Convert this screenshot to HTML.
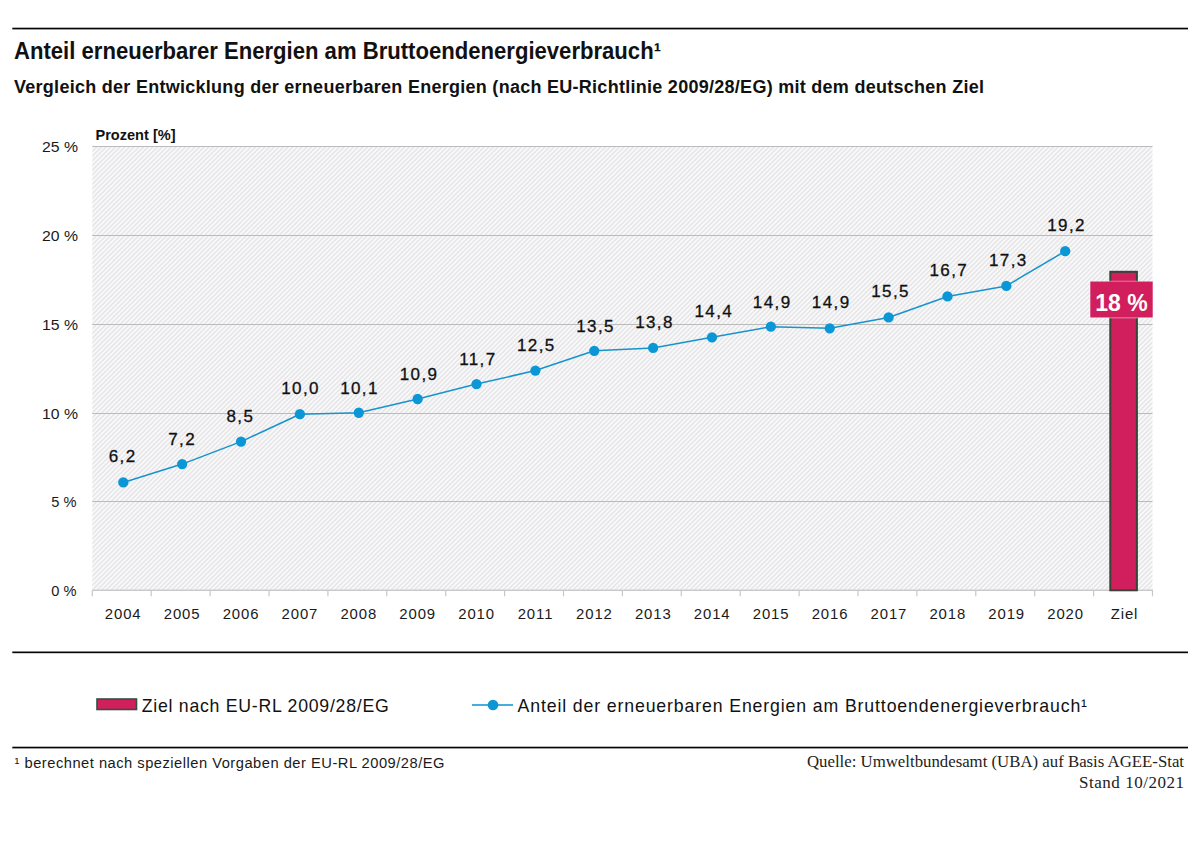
<!DOCTYPE html><html><head><meta charset="utf-8"><title>Anteil erneuerbarer Energien</title>
<style>html,body{margin:0;padding:0;background:#fff;width:1200px;height:858px;overflow:hidden}svg{display:block}text{font-family:"Liberation Sans", sans-serif}.serif{font-family:"Liberation Serif", serif}</style></head><body>
<svg width="1200" height="858" viewBox="0 0 1200 858">
<defs><pattern id="hatch" patternUnits="userSpaceOnUse" width="3.3" height="20" patternTransform="rotate(45)"><rect width="3.3" height="20" fill="#f9f9fa"/><rect x="0" y="0" width="1.45" height="20" fill="#e5e5e8"/></pattern></defs>
<rect x="0" y="0" width="1200" height="858" fill="#fff"/>
<rect x="12.3" y="27.7" width="1175.7" height="1.7" fill="#060606"/>
<text x="14" y="58.8" font-size="23" font-weight="bold" fill="#111" textLength="647" lengthAdjust="spacingAndGlyphs">Anteil erneuerbarer Energien am Bruttoendenergieverbrauch¹</text>
<text x="14" y="93.3" font-size="18" font-weight="bold" fill="#111" textLength="970" lengthAdjust="spacing">Vergleich der Entwicklung der erneuerbaren Energien (nach EU-Richtlinie 2009/28/EG)  mit dem deutschen Ziel</text>
<text x="95.5" y="140.4" font-size="15" font-weight="bold" fill="#111" textLength="80" lengthAdjust="spacingAndGlyphs">Prozent [%]</text>
<rect x="92.3" y="146.3" width="1060.2" height="444.0" fill="url(#hatch)"/>
<rect x="92.3" y="146" width="1060.2" height="1" fill="#bbbbbb"/>
<rect x="92.3" y="235" width="1060.2" height="1" fill="#bbbbbb"/>
<rect x="92.3" y="324" width="1060.2" height="1" fill="#bbbbbb"/>
<rect x="92.3" y="413" width="1060.2" height="1" fill="#bbbbbb"/>
<rect x="92.3" y="501" width="1060.2" height="1" fill="#bbbbbb"/>
<rect x="92.3" y="589.60" width="1060.7" height="1.4" fill="#c8c8c8"/>
<rect x="91.70" y="590.30" width="1.2" height="6" fill="#c8c8c8"/>
<rect x="150.60" y="590.30" width="1.2" height="6" fill="#c8c8c8"/>
<rect x="209.50" y="590.30" width="1.2" height="6" fill="#c8c8c8"/>
<rect x="268.40" y="590.30" width="1.2" height="6" fill="#c8c8c8"/>
<rect x="327.30" y="590.30" width="1.2" height="6" fill="#c8c8c8"/>
<rect x="386.20" y="590.30" width="1.2" height="6" fill="#c8c8c8"/>
<rect x="445.10" y="590.30" width="1.2" height="6" fill="#c8c8c8"/>
<rect x="504.00" y="590.30" width="1.2" height="6" fill="#c8c8c8"/>
<rect x="562.90" y="590.30" width="1.2" height="6" fill="#c8c8c8"/>
<rect x="621.80" y="590.30" width="1.2" height="6" fill="#c8c8c8"/>
<rect x="680.70" y="590.30" width="1.2" height="6" fill="#c8c8c8"/>
<rect x="739.60" y="590.30" width="1.2" height="6" fill="#c8c8c8"/>
<rect x="798.50" y="590.30" width="1.2" height="6" fill="#c8c8c8"/>
<rect x="857.40" y="590.30" width="1.2" height="6" fill="#c8c8c8"/>
<rect x="916.30" y="590.30" width="1.2" height="6" fill="#c8c8c8"/>
<rect x="975.20" y="590.30" width="1.2" height="6" fill="#c8c8c8"/>
<rect x="1034.10" y="590.30" width="1.2" height="6" fill="#c8c8c8"/>
<rect x="1093.00" y="590.30" width="1.2" height="6" fill="#c8c8c8"/>
<rect x="1151.90" y="590.30" width="1.2" height="6" fill="#c8c8c8"/>
<text x="51.3" y="596.10" font-size="15.5" fill="#1a1a1a" textLength="25.2" lengthAdjust="spacingAndGlyphs">0 %</text>
<text x="51.3" y="507.30" font-size="15.5" fill="#1a1a1a" textLength="25.2" lengthAdjust="spacingAndGlyphs">5 %</text>
<text x="42.0" y="418.50" font-size="15.5" fill="#1a1a1a" textLength="36" lengthAdjust="spacingAndGlyphs">10 %</text>
<text x="42.0" y="329.70" font-size="15.5" fill="#1a1a1a" textLength="36" lengthAdjust="spacingAndGlyphs">15 %</text>
<text x="42.0" y="240.90" font-size="15.5" fill="#1a1a1a" textLength="36" lengthAdjust="spacingAndGlyphs">20 %</text>
<text x="42.0" y="152.10" font-size="15.5" fill="#1a1a1a" textLength="36" lengthAdjust="spacingAndGlyphs">25 %</text>
<text x="123.20" y="619" font-size="14.9" fill="#1a1a1a" text-anchor="middle" letter-spacing="0.9">2004</text>
<text x="182.10" y="619" font-size="14.9" fill="#1a1a1a" text-anchor="middle" letter-spacing="0.9">2005</text>
<text x="241.00" y="619" font-size="14.9" fill="#1a1a1a" text-anchor="middle" letter-spacing="0.9">2006</text>
<text x="299.90" y="619" font-size="14.9" fill="#1a1a1a" text-anchor="middle" letter-spacing="0.9">2007</text>
<text x="358.80" y="619" font-size="14.9" fill="#1a1a1a" text-anchor="middle" letter-spacing="0.9">2008</text>
<text x="417.70" y="619" font-size="14.9" fill="#1a1a1a" text-anchor="middle" letter-spacing="0.9">2009</text>
<text x="476.60" y="619" font-size="14.9" fill="#1a1a1a" text-anchor="middle" letter-spacing="0.9">2010</text>
<text x="535.50" y="619" font-size="14.9" fill="#1a1a1a" text-anchor="middle" letter-spacing="0.9">2011</text>
<text x="594.40" y="619" font-size="14.9" fill="#1a1a1a" text-anchor="middle" letter-spacing="0.9">2012</text>
<text x="653.30" y="619" font-size="14.9" fill="#1a1a1a" text-anchor="middle" letter-spacing="0.9">2013</text>
<text x="712.20" y="619" font-size="14.9" fill="#1a1a1a" text-anchor="middle" letter-spacing="0.9">2014</text>
<text x="771.10" y="619" font-size="14.9" fill="#1a1a1a" text-anchor="middle" letter-spacing="0.9">2015</text>
<text x="830.00" y="619" font-size="14.9" fill="#1a1a1a" text-anchor="middle" letter-spacing="0.9">2016</text>
<text x="888.90" y="619" font-size="14.9" fill="#1a1a1a" text-anchor="middle" letter-spacing="0.9">2017</text>
<text x="947.80" y="619" font-size="14.9" fill="#1a1a1a" text-anchor="middle" letter-spacing="0.9">2018</text>
<text x="1006.70" y="619" font-size="14.9" fill="#1a1a1a" text-anchor="middle" letter-spacing="0.9">2019</text>
<text x="1065.60" y="619" font-size="14.9" fill="#1a1a1a" text-anchor="middle" letter-spacing="0.9">2020</text>
<text x="1124.50" y="619" font-size="14.9" fill="#1a1a1a" text-anchor="middle" letter-spacing="0.9">Ziel</text>
<rect x="1110.3" y="271.8" width="26.6" height="318.5" fill="#d01f5c" stroke="#394339" stroke-width="2"/>
<polyline points="123.30,482.40 182.17,464.10 241.04,441.60 299.91,414.20 358.78,412.75 417.65,399.00 476.52,384.10 535.39,370.60 594.26,350.80 653.13,347.90 712.00,337.30 770.87,326.70 829.74,328.30 888.61,317.40 947.48,296.40 1006.35,285.90 1065.22,251.20" fill="none" stroke="#1893cc" stroke-width="1.55" stroke-linejoin="round"/>
<circle cx="123.30" cy="482.40" r="5.15" fill="#0b97d6"/>
<circle cx="182.17" cy="464.10" r="5.15" fill="#0b97d6"/>
<circle cx="241.04" cy="441.60" r="5.15" fill="#0b97d6"/>
<circle cx="299.91" cy="414.20" r="5.15" fill="#0b97d6"/>
<circle cx="358.78" cy="412.75" r="5.15" fill="#0b97d6"/>
<circle cx="417.65" cy="399.00" r="5.15" fill="#0b97d6"/>
<circle cx="476.52" cy="384.10" r="5.15" fill="#0b97d6"/>
<circle cx="535.39" cy="370.60" r="5.15" fill="#0b97d6"/>
<circle cx="594.26" cy="350.80" r="5.15" fill="#0b97d6"/>
<circle cx="653.13" cy="347.90" r="5.15" fill="#0b97d6"/>
<circle cx="712.00" cy="337.30" r="5.15" fill="#0b97d6"/>
<circle cx="770.87" cy="326.70" r="5.15" fill="#0b97d6"/>
<circle cx="829.74" cy="328.30" r="5.15" fill="#0b97d6"/>
<circle cx="888.61" cy="317.40" r="5.15" fill="#0b97d6"/>
<circle cx="947.48" cy="296.40" r="5.15" fill="#0b97d6"/>
<circle cx="1006.35" cy="285.90" r="5.15" fill="#0b97d6"/>
<circle cx="1065.22" cy="251.20" r="5.15" fill="#0b97d6"/>
<text x="122.60" y="461.80" font-size="17" fill="#111" stroke="#111" stroke-width="0.3" text-anchor="middle" letter-spacing="1.4">6,2</text>
<text x="182.10" y="445.00" font-size="17" fill="#111" stroke="#111" stroke-width="0.3" text-anchor="middle" letter-spacing="1.4">7,2</text>
<text x="240.40" y="422.30" font-size="17" fill="#111" stroke="#111" stroke-width="0.3" text-anchor="middle" letter-spacing="1.4">8,5</text>
<text x="300.55" y="393.80" font-size="17" fill="#111" stroke="#111" stroke-width="0.3" text-anchor="middle" letter-spacing="1.4">10,0</text>
<text x="359.50" y="393.50" font-size="17" fill="#111" stroke="#111" stroke-width="0.3" text-anchor="middle" letter-spacing="1.4">10,1</text>
<text x="419.10" y="379.60" font-size="17" fill="#111" stroke="#111" stroke-width="0.3" text-anchor="middle" letter-spacing="1.4">10,9</text>
<text x="477.90" y="364.70" font-size="17" fill="#111" stroke="#111" stroke-width="0.3" text-anchor="middle" letter-spacing="1.4">11,7</text>
<text x="536.30" y="350.80" font-size="17" fill="#111" stroke="#111" stroke-width="0.3" text-anchor="middle" letter-spacing="1.4">12,5</text>
<text x="595.60" y="332.00" font-size="17" fill="#111" stroke="#111" stroke-width="0.3" text-anchor="middle" letter-spacing="1.4">13,5</text>
<text x="654.50" y="327.90" font-size="17" fill="#111" stroke="#111" stroke-width="0.3" text-anchor="middle" letter-spacing="1.4">13,8</text>
<text x="713.80" y="316.70" font-size="17" fill="#111" stroke="#111" stroke-width="0.3" text-anchor="middle" letter-spacing="1.4">14,4</text>
<text x="772.20" y="307.80" font-size="17" fill="#111" stroke="#111" stroke-width="0.3" text-anchor="middle" letter-spacing="1.4">14,9</text>
<text x="831.20" y="307.80" font-size="17" fill="#111" stroke="#111" stroke-width="0.3" text-anchor="middle" letter-spacing="1.4">14,9</text>
<text x="890.60" y="297.40" font-size="17" fill="#111" stroke="#111" stroke-width="0.3" text-anchor="middle" letter-spacing="1.4">15,5</text>
<text x="948.80" y="276.40" font-size="17" fill="#111" stroke="#111" stroke-width="0.3" text-anchor="middle" letter-spacing="1.4">16,7</text>
<text x="1008.30" y="265.90" font-size="17" fill="#111" stroke="#111" stroke-width="0.3" text-anchor="middle" letter-spacing="1.4">17,3</text>
<text x="1066.60" y="230.70" font-size="17" fill="#111" stroke="#111" stroke-width="0.3" text-anchor="middle" letter-spacing="1.4">19,2</text>
<rect x="1089.5" y="280.8" width="64" height="37.5" fill="#fff" opacity="0.6"/>
<rect x="1090.3" y="281.5" width="62.4" height="36" fill="#d01f5c"/>
<text x="1121.5" y="310.7" font-size="23" font-weight="bold" fill="#fff" text-anchor="middle">18 %</text>
<rect x="12.3" y="651.5" width="1175.7" height="1.7" fill="#060606"/>
<rect x="97" y="699" width="39.5" height="10.5" fill="#d01f5c" stroke="#32503d" stroke-width="1.6"/>
<text x="141.7" y="711.5" font-size="17.7" fill="#111" textLength="247" lengthAdjust="spacing">Ziel nach EU-RL 2009/28/EG</text>
<rect x="472" y="704.2" width="41" height="1.6" fill="#1a9ad6"/>
<circle cx="493" cy="705" r="5.3" fill="#0b97d6"/>
<text x="517.5" y="711.5" font-size="17.7" fill="#111" textLength="569.5" lengthAdjust="spacing">Anteil der erneuerbaren Energien am Bruttoendenergieverbrauch¹</text>
<rect x="12.3" y="746.7" width="1175.7" height="1.7" fill="#060606"/>
<text x="14.5" y="767.5" font-size="14.7" fill="#1a1a1a" textLength="430" lengthAdjust="spacing">¹ berechnet nach speziellen Vorgaben der EU-RL 2009/28/EG</text>
<text x="1184" y="766.7" font-size="17" fill="#222" text-anchor="end" class="serif" textLength="377" lengthAdjust="spacingAndGlyphs">Quelle: Umweltbundesamt (UBA) auf Basis AGEE-Stat</text>
<text x="1184" y="787.9" font-size="17" fill="#222" text-anchor="end" class="serif" textLength="105" lengthAdjust="spacing">Stand 10/2021</text>
</svg></body></html>
